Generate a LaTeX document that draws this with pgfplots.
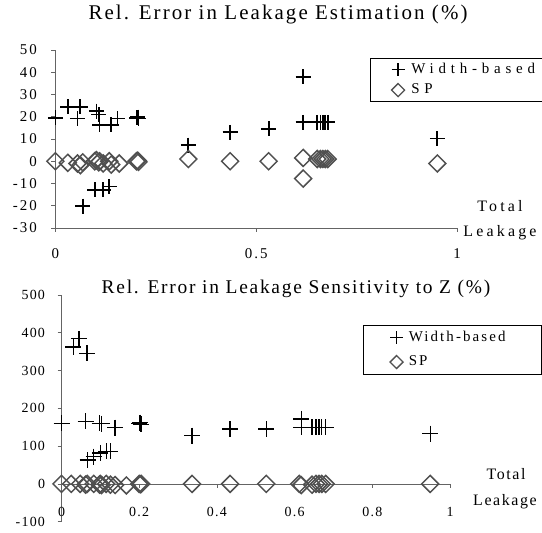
\documentclass[border=0pt]{standalone}
\usepackage{pgfplots}
\pgfplotsset{compat=1.18}
\usepackage{fontspec}
\setmainfont{Liberation Serif}
\newfontfamily\fTitleA[LetterSpace=10]{Liberation Serif}
\newfontfamily\fTitleB[LetterSpace=9]{Liberation Serif}
\newfontfamily\fTickA[LetterSpace=14]{Liberation Serif}
\newfontfamily\fTickB[LetterSpace=9]{Liberation Serif}
\newfontfamily\fLegA[LetterSpace=32]{Liberation Serif}
\newfontfamily\fLegB[LetterSpace=14]{Liberation Serif}
\newfontfamily\fLabA[LetterSpace=20]{Liberation Serif}
\newfontfamily\fLabB[LetterSpace=10]{Liberation Serif}
\definecolor{axisgray}{RGB}{100,100,100}
\definecolor{diagray}{RGB}{80,80,80}

\pgfplotstableread{
x y
0 19.5
0.031 24.5
0.062 24.5
0.055 19.2
0.102 22.5
0.108 21
0.110 16.3
0.139 16.3
0.155 19.2
0.202 19.5
0.205 19.8
0.207 19.2
0.068 -20.2
0.098 -12.8
0.119 -12.8
0.134 -11.3
0.331 7.3
0.435 13
0.531 14.5
0.617 38
0.617 17.5
0.652 17.5
0.660 17.5
0.666 17.5
0.672 17.5
0.678 17.5
0.951 10.2
}\topWB

\pgfplotstableread{
x y
0 0
0.031 -0.7
0.055 -1
0.062 -1.8
0.068 -0.5
0.098 0
0.102 0.5
0.108 -0.5
0.110 0
0.119 -1
0.134 0
0.139 -1.5
0.159 -1
0.202 0
0.205 0.3
0.207 -0.3
0.331 1
0.435 0
0.531 0
0.617 1.5
0.617 -7.8
0.652 1
0.660 1
0.666 1
0.672 1
0.678 1
0.951 -1
}\topSP

\pgfplotstableread{
x y
0 160
0.030 362
0.045 384
0.066 346
0.062 166
0.098 160
0.103 159
0.138 149
0.200 160
0.203 162
0.205 158
0.067 63
0.083 72
0.100 82
0.115 86
0.126 86
0.336 128
0.434 145
0.527 145
0.617 172
0.617 150
0.645 150
0.655 150
0.663 150
0.670 150
0.680 150
0.949 133
}\botWB

\pgfplotstableread{
x y
0 0
0.025 0
0.048 0
0.062 -2
0.066 0
0.083 0
0.098 -2
0.100 0
0.103 -3
0.115 0
0.126 -2
0.138 -3
0.167 -4
0.200 0
0.203 -1
0.205 0
0.336 0
0.434 0
0.527 0
0.612 0
0.617 -3
0.645 -2
0.655 0
0.663 0
0.670 0
0.680 0
0.949 0
}\botSP

\pgfplotsset{
  plusleg/.style={legend image code/.code={%
    \draw[only marks, mark=+, mark size=6.5bp, line width=1.4bp, black]
      plot coordinates {(0.3cm,0cm)};
    \path (0cm,0cm) (0.6cm,0cm);}},
  diamleg/.style={legend image code/.code={%
    \draw[only marks, mark=square, mark size=4.6bp, line width=1.3bp, diagray, mark options={rotate=45}]
      plot coordinates {(0.3cm,0cm)};
    \path (0cm,0cm) (0.6cm,0cm);}},
}

\begin{document}
\begin{tikzpicture}
\useasboundingbox (0,0) rectangle (542bp,533bp);

% ---------- top chart ----------
\node[anchor=base, font={\fTitleA\fontsize{21}{25}\selectfont}] at (278bp,513bp) {Rel. Error in Leakage Estimation (\%)};
\node[anchor=base, font={\fLabA\fontsize{16}{19}\selectfont}] at (500bp,321.3bp) {Total};
\node[anchor=base, font={\fLabA\fontsize{16}{19}\selectfont}] at (500bp,296.3bp) {Leakage};

\begin{axis}[
  at={(55.4bp,305bp)}, anchor=south west,
  scale only axis, width=401.6bp, height=178bp,
  xmin=0, xmax=1, ymin=-30, ymax=50,
  axis x line=bottom, axis y line=left,
  axis line style={-, draw=axisgray, line width=0.8bp},
  tick align=outside, major tick length=4bp,
  every tick/.style={draw=axisgray, line width=0.8bp},
  xtick={0,0.5,1}, xticklabels={0,0.5,1},
  ytick={-30,-20,...,50},
  yticklabels={-30,-20,-10,0,10,20,30,40,50},
  tick label style={font={\fTickA\fontsize{15}{18}\selectfont}},
  xticklabel style={yshift=-13bp},
  yticklabel style={xshift=-11bp},
  clip=false,
  legend cell align=left,
  legend style={at={(axis description cs:0.783,0.955)}, anchor=north west,
    draw=black, line width=0.7bp, inner xsep=18.5bp, inner ysep=3bp,
    font={\fLegA\fontsize{15}{18}\selectfont}, row sep=4bp,
    nodes={inner sep=1bp, text height=11bp, text depth=3.5bp}},
]
\addplot[only marks, mark=+, mark size=7.5bp, line width=1.7bp, black, plusleg]
  table[x=x,y=y]{\topWB};
\addlegendentry{\makebox[115bp][l]{\hspace{3bp}Width-based}}
\addplot[only marks, mark=square, mark size=6bp, line width=1.5bp, diagray,
  mark options={rotate=45}, diamleg]
  table[x=x,y=y]{\topSP};
\addlegendentry{\makebox[115bp][l]{\hspace{3bp}SP}}
\end{axis}

% ---------- bottom chart ----------
\node[anchor=base, font={\fTitleB\fontsize{19.5}{23}\selectfont}] at (296bp,239bp) {Rel. Error in Leakage Sensitivity to Z (\%)};
\node[anchor=base, font={\fLabB\fontsize{16}{19}\selectfont}] at (506bp,53bp) {Total};
\node[anchor=base, font={\fLabB\fontsize{16}{19}\selectfont}] at (505bp,28bp) {Leakage};

\begin{axis}[
  at={(61.5bp,11.3bp)}, anchor=south west,
  scale only axis, width=388.5bp, height=226.7bp,
  xmin=0, xmax=1, ymin=-100, ymax=500,
  axis x line=middle, axis y line=left,
  hide obscured x ticks=false, hide obscured y ticks=false,
  axis line style={-, draw=axisgray, line width=0.8bp},
  tick align=outside, major tick length=4bp,
  every tick/.style={draw=axisgray, line width=0.8bp},
  xtick={0,0.2,0.4,0.6,0.8,1}, xticklabels={0,0.2,0.4,0.6,0.8,1},
  ytick={-100,0,...,500},
  yticklabels={-100,0,100,200,300,400,500},
  tick label style={font={\fTickB\fontsize{14}{17}\selectfont}},
  xticklabel style={yshift=-16bp},
  yticklabel style={xshift=-9bp},
  clip=false,
  legend cell align=left,
  legend style={at={(axis description cs:0.776,0.868)}, anchor=north west,
    draw=black, line width=0.7bp, inner xsep=24bp, inner ysep=4bp,
    font={\fLegB\fontsize{15}{18}\selectfont}, row sep=8bp,
    nodes={inner sep=1bp, text height=11bp, text depth=3.5bp}},
]
\addplot[only marks, mark=+, mark size=8bp, line width=1.3bp, black, plusleg]
  table[x=x,y=y]{\botWB};
\addlegendentry{\makebox[110bp][l]{\hspace{2bp}Width-based}}
\addplot[only marks, mark=square, mark size=6bp, line width=1.5bp, diagray,
  mark options={rotate=45}, diamleg]
  table[x=x,y=y]{\botSP};
\addlegendentry{\makebox[110bp][l]{\hspace{2bp}SP}}
\end{axis}
\end{tikzpicture}
\end{document}
